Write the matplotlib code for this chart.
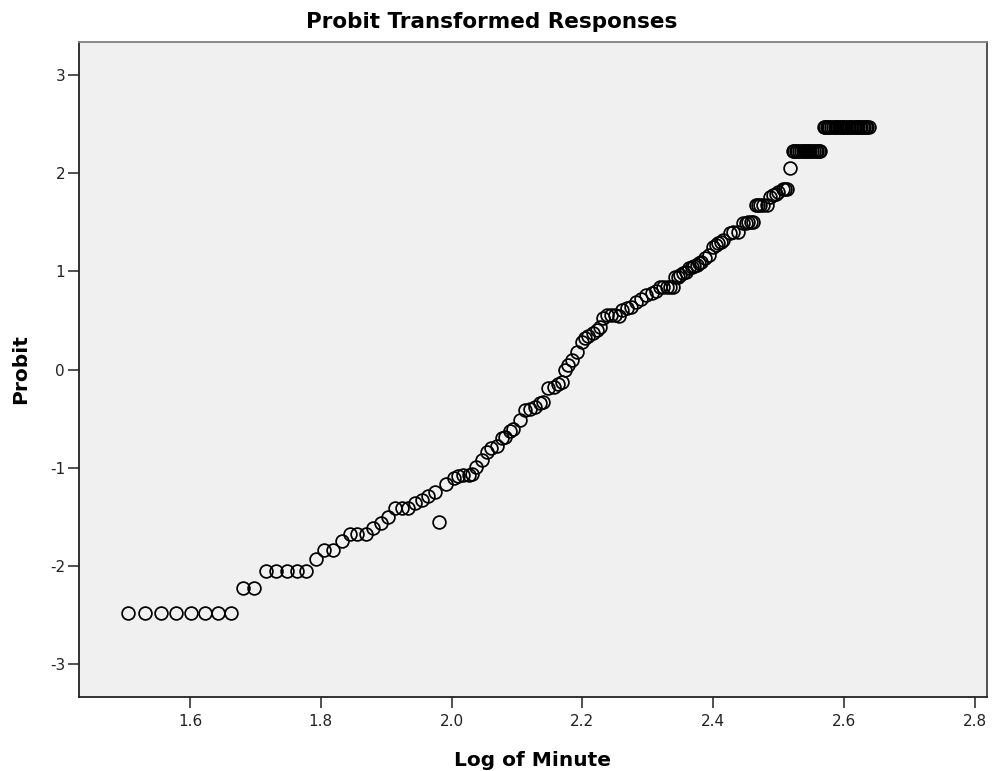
import matplotlib
matplotlib.use('Agg')
import matplotlib.pyplot as plt

# Valores (log10 de minutos, probit)
log_minute = [
    1.505, 1.531, 1.555, 1.579, 1.602, 1.622, 1.642, 1.662,
    1.681, 1.698,
    1.716, 1.732, 1.748, 1.763, 1.778,
    1.792, 1.805, 1.819, 1.832, 1.845, 1.856, 1.869, 1.880, 1.892, 1.903,
    1.913, 1.924, 1.934, 1.944, 1.954, 1.964, 1.974, 1.981,
    1.991, 2.003, 2.010, 2.018, 2.026, 2.031, 2.038, 2.046, 2.054, 2.061,
    2.069, 2.077, 2.082, 2.089, 2.094, 2.105, 2.112, 2.120, 2.128, 2.135,
    2.140, 2.148, 2.156, 2.163, 2.169, 2.173, 2.178, 2.184, 2.192, 2.199,
    2.204, 2.209, 2.217, 2.222, 2.227, 2.232, 2.238, 2.244, 2.250, 2.256,
    2.260, 2.268, 2.275, 2.282, 2.290, 2.298, 2.306, 2.313, 2.319, 2.324,
    2.329, 2.334, 2.339, 2.342, 2.346, 2.349, 2.354, 2.359, 2.363, 2.367,
    2.371, 2.375, 2.379, 2.382, 2.388, 2.393, 2.400, 2.404, 2.408, 2.412,
    2.415, 2.426, 2.431, 2.438, 2.446, 2.450, 2.454, 2.458, 2.461, 2.465,
    2.469, 2.472, 2.477, 2.482, 2.487, 2.492, 2.496, 2.500, 2.507, 2.510,
    2.513, 2.517,
    2.522, 2.524, 2.527, 2.529, 2.532, 2.534, 2.537, 2.539, 2.542, 2.544,
    2.547, 2.549, 2.552, 2.554, 2.557, 2.559, 2.562, 2.564,
    2.569, 2.571, 2.574, 2.576, 2.578, 2.581, 2.583, 2.586, 2.588, 2.590,
    2.592, 2.595, 2.597, 2.599, 2.601, 2.604, 2.606, 2.608, 2.611, 2.613,
    2.615, 2.618, 2.620, 2.622, 2.624, 2.627, 2.629, 2.631, 2.634, 2.636,
    2.638,
]
probit = [
    -2.477, -2.477, -2.477, -2.477, -2.477, -2.477, -2.477, -2.477,
    -2.219, -2.219,
    -2.053, -2.053, -2.053, -2.053, -2.053,
    -1.930, -1.835, -1.835, -1.750, -1.676, -1.676, -1.676, -1.618, -1.561, -1.506,
    -1.408, -1.408, -1.408, -1.363, -1.329, -1.289, -1.245, -1.553,
    -1.169, -1.108, -1.085, -1.075, -1.075, -1.064, -0.990, -0.922, -0.837, -0.803,
    -0.779, -0.701, -0.685, -0.623, -0.609, -0.514, -0.413, -0.405, -0.379, -0.344,
    -0.328, -0.192, -0.175, -0.148, -0.127, -0.005, 0.046, 0.097, 0.178, 0.283,
    0.318, 0.341, 0.369, 0.402, 0.436, 0.525, 0.555, 0.555, 0.555, 0.545,
    0.606, 0.623, 0.640, 0.691, 0.718, 0.754, 0.776, 0.800, 0.843, 0.843,
    0.843, 0.843, 0.843, 0.945, 0.945, 0.963, 0.980, 0.996, 1.030, 1.047,
    1.055, 1.064, 1.080, 1.098, 1.130, 1.166, 1.251, 1.270, 1.286, 1.300,
    1.319, 1.387, 1.395, 1.404, 1.489, 1.489, 1.506, 1.506, 1.506, 1.676,
    1.676, 1.676, 1.676, 1.676, 1.760, 1.778, 1.790, 1.811, 1.836, 1.836,
    1.836, 2.049,
    2.219, 2.219, 2.219, 2.219, 2.219, 2.219, 2.219, 2.219, 2.219, 2.219,
    2.219, 2.219, 2.219, 2.219, 2.219, 2.219, 2.219, 2.219,
    2.473, 2.473, 2.473, 2.473, 2.473, 2.473, 2.473, 2.473, 2.473, 2.473,
    2.473, 2.473, 2.473, 2.473, 2.473, 2.473, 2.473, 2.473, 2.473, 2.473,
    2.473, 2.473, 2.473, 2.473, 2.473, 2.473, 2.473, 2.473, 2.473, 2.473,
    2.473,
]
x_ticks = [1.6, 1.8, 2.0, 2.2, 2.4, 2.6, 2.8]
y_ticks = [-3, -2, -1, 0, 1, 2, 3]

plt.rcParams['font.family'] = ['DejaVu Sans']

fig = plt.figure(figsize=(9.92, 7.71), dpi=100)
fig.patch.set_facecolor('white')
ax = fig.add_axes([79 / 992, 1 - 697 / 771, (987 - 79) / 992, (697 - 42) / 771])
ax.set_facecolor('#f0f0f0')

ax.plot(log_minute, probit, linestyle='none', marker='o', markersize=9.2,
        markerfacecolor='none', markeredgecolor='#000000', markeredgewidth=1.25)

ax.set_xlim(1.430, 2.819)
ax.set_ylim(-3.333, 3.333)
ax.set_xticks(x_ticks)
ax.set_xticklabels([f"{v:.1f}" for v in x_ticks])
ax.set_yticks(y_ticks)
ax.set_yticklabels([str(v) for v in y_ticks])

ax.tick_params(axis='both', direction='out', length=8, width=1.2,
               color='#333333', labelsize=11, labelcolor='#222222')
ax.tick_params(axis='x', pad=4)
ax.tick_params(axis='y', pad=2)

ax.spines['left'].set_color('#222222')
ax.spines['bottom'].set_color('#222222')
ax.spines['top'].set_color('#808080')
ax.spines['right'].set_color('#444444')
for s in ax.spines.values():
    s.set_linewidth(1.3)

ax.set_xlabel('Log of Minute', fontsize=14.5, fontweight='bold', labelpad=16)
ax.set_ylabel('Probit', fontsize=14.5, fontweight='bold', labelpad=14)
fig.text(0.496, 0.972, 'Probit Transformed Responses', fontsize=15.5,
         fontweight='bold', ha='center', va='center')

fig.savefig('out.png', dpi=100, facecolor='white')
plt.close(fig)
